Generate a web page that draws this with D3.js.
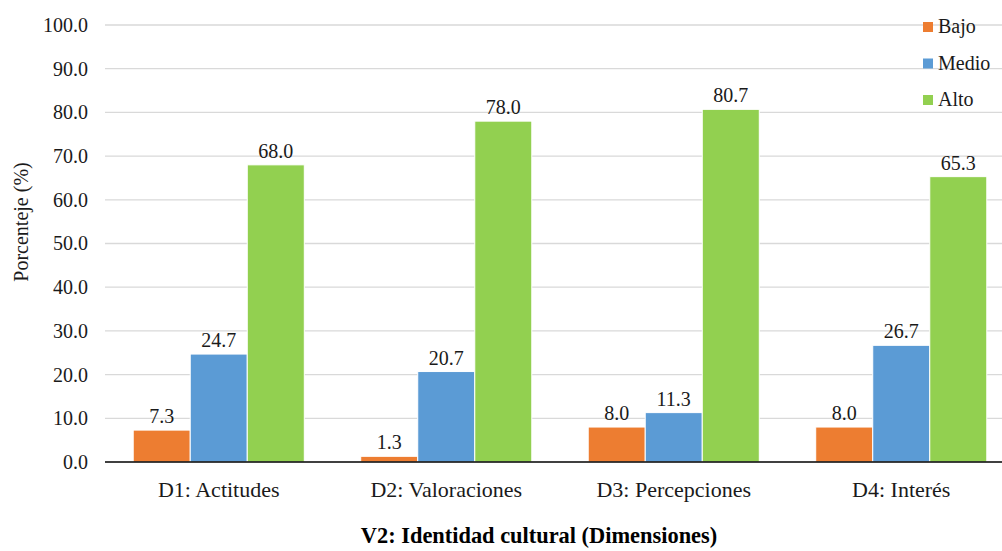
<!DOCTYPE html>
<html>
<head>
<meta charset="utf-8">
<script src="https://cdn.jsdelivr.net/npm/d3@7"></script>
</head>
<body style="margin:0;background:#fff">
<svg id="chart" width="1002" height="551" style="display:block"></svg>
<script>
// Dimensions of cultural identity and the percentage in each level
const categories = ["D1: Actitudes", "D2: Valoraciones", "D3: Percepciones", "D4: Interés"];
const seriesNames = ["Bajo", "Medio", "Alto"];
const bajo = [7.3, 1.3, 8.0, 8.0];
const medio = [24.7, 20.7, 11.3, 26.7];
const alto = [68.0, 78.0, 80.7, 65.3];
const yTicks = [0, 10, 20, 30, 40, 50, 60, 70, 80, 90, 100];
const colors = ["#ED7D31", "#5B9BD5", "#92D050"];

const FONT = "'Liberation Serif'";
const TEXT_COLOR = "#1a1a1a";

const seriesValues = [bajo, medio, alto];
const rows = categories.map((c, i) => ({
  category: c,
  values: seriesNames.map((s, j) => ({ series: s, value: seriesValues[j][i], color: colors[j] }))
}));

const svg = d3.select("#chart");
const plot = { left: 105, right: 1015, top: 25, bottom: 462 };

const x0 = d3.scaleBand()
  .domain(categories)
  .range([plot.left, plot.right])
  .paddingInner(0.248)
  .paddingOuter(0.124);

const x1 = d3.scaleBand()
  .domain(seriesNames)
  .range([0, x0.bandwidth()]);

const y = d3.scaleLinear().domain([0, 100]).range([plot.bottom, plot.top]);

// Horizontal gridlines
svg.append("g")
  .selectAll("line")
  .data(yTicks.filter(t => t > 0))
  .join("line")
  .attr("x1", plot.left)
  .attr("x2", plot.right)
  .attr("y1", d => y(d))
  .attr("y2", d => y(d))
  .attr("stroke", "#d9d9d9")
  .attr("stroke-width", 1.3);

// Y axis tick labels
const yAxis = d3.axisLeft(y).tickValues(yTicks).tickFormat(d3.format(".1f")).tickSize(0).tickPadding(17);
const yg = svg.append("g").attr("transform", `translate(${plot.left},0)`).call(yAxis);
yg.attr("font-family", null).attr("font-size", null);
yg.select(".domain").remove();
yg.selectAll("text")
  .style("font-family", FONT)
  .style("font-size", "20px")
  .attr("fill", TEXT_COLOR);

// Bars
const groups = svg.append("g")
  .selectAll("g")
  .data(rows)
  .join("g")
  .attr("transform", d => `translate(${x0(d.category)},0)`);

groups.selectAll("rect")
  .data(d => d.values)
  .join("rect")
  .attr("x", d => x1(d.series))
  .attr("y", d => y(d.value))
  .attr("width", x1.bandwidth())
  .attr("height", d => y(0) - y(d.value))
  .attr("fill", d => d.color)
  .attr("stroke", "#ffffff")
  .attr("stroke-width", 1);

// Value labels above bars
groups.selectAll("text")
  .data(d => d.values)
  .join("text")
  .attr("x", d => x1(d.series) + x1.bandwidth() / 2)
  .attr("y", d => y(d.value) - 7)
  .attr("text-anchor", "middle")
  .style("font-family", FONT)
  .style("font-size", "20px")
  .attr("fill", TEXT_COLOR)
  .text(d => d3.format(".1f")(d.value));

// Baseline
svg.append("line")
  .attr("x1", plot.left)
  .attr("x2", plot.right)
  .attr("y1", y(0))
  .attr("y2", y(0))
  .attr("stroke", "#000")
  .attr("stroke-width", 1.5);

// Category labels
svg.append("g")
  .selectAll("text")
  .data(categories)
  .join("text")
  .attr("x", d => x0(d) + x0.bandwidth() / 2)
  .attr("y", 497)
  .attr("text-anchor", "middle")
  .style("font-family", FONT)
  .style("font-size", "22px")
  .attr("fill", TEXT_COLOR)
  .text(d => d);

// Axis titles
svg.append("text")
  .attr("transform", "translate(28,222) rotate(-90)")
  .attr("text-anchor", "middle")
  .style("font-family", FONT)
  .style("font-size", "20px")
  .attr("fill", TEXT_COLOR)
  .text("Porcenteje (%)");

svg.append("text")
  .attr("x", 539)
  .attr("y", 543)
  .attr("text-anchor", "middle")
  .style("font-family", FONT)
  .style("font-size", "22.4px")
  .style("font-weight", "bold")
  .attr("fill", "#000")
  .text("V2: Identidad cultural (Dimensiones)");

// Legend
const legend = svg.append("g")
  .selectAll("g")
  .data(seriesNames)
  .join("g")
  .attr("transform", (d, i) => `translate(923,${22 + i * 36.5})`);

legend.append("rect")
  .attr("width", 10)
  .attr("height", 10)
  .attr("fill", (d, i) => colors[i]);

legend.append("text")
  .attr("x", 15)
  .attr("y", 11)
  .style("font-family", FONT)
  .style("font-size", "20px")
  .attr("fill", TEXT_COLOR)
  .text(d => d);
</script>
</body>
</html>
